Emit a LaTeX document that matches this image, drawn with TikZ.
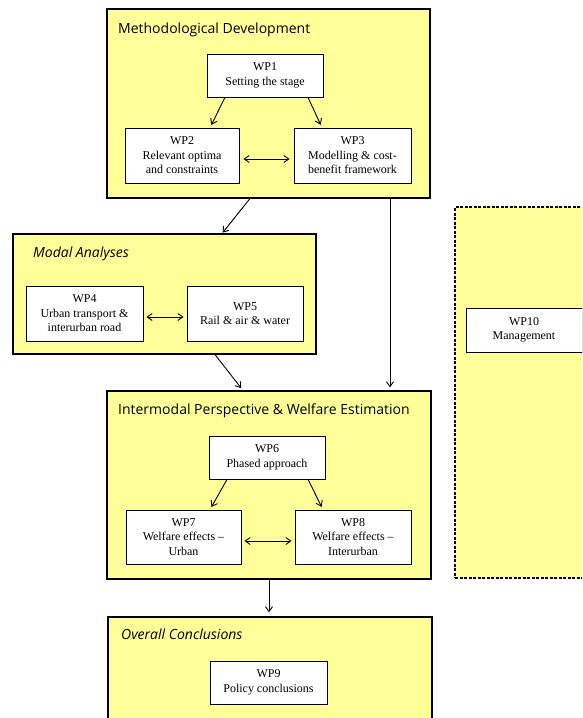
\documentclass[tikz,border=0pt]{standalone}
\usepackage{fontspec}
\setmainfont{Liberation Serif}
\newfontfamily\headfont{Open Sans}
\usepackage{xcolor}
\usetikzlibrary{arrows.meta}
\definecolor{panelyellow}{HTML}{FFFF99}
\colorlet{panel area}{panelyellow}
\colorlet{panel edge}{black}
\tikzset{panel/.style={fill=panel area, draw=panel edge, line width=1.1pt, inner sep=0pt},
    wpbox/.style={fill=white, draw=black, line width=0.9pt, inner sep=0pt, align=center,
        font=\fontsize{12}{14.5}\selectfont},
    heading/.style={anchor=base west, inner sep=0pt, font=\headfont\fontsize{14}{16}\selectfont},
    flow/.style={line width=0.9pt, -{Straight Barb[length=5pt,width=7pt]}},
    twoway/.style={line width=0.9pt, {Straight Barb[length=5pt,width=7pt]}-{Straight Barb[length=5pt,width=7pt]}}}

\begin{document}
\begin{tikzpicture}[x=1pt, y=-1pt]
    \clip (0,0) rectangle (582,718);
    % panels
    \node[panel, minimum width=323pt, minimum height=189pt] (method)  at (268.5,103.5) {};
    \node[panel, minimum width=303pt, minimum height=120pt] (modal)   at (164.5,294)   {};
    \node[panel, minimum width=324pt, minimum height=188pt] (inter)   at (269,485)     {};
    \node[panel, minimum width=324pt, minimum height=143pt] (overall) at (270,688.5)   {};
    \node[panel, dash pattern=on 3pt off 1.5pt, minimum width=165pt, minimum height=371pt] (mgmt) at (537.5,392.5) {};
    \node[heading] (methodtitle)  at (118,33)  {Methodological Development};
    \node[heading] (modaltitle)   at (33,257)  {\itshape Modal Analyses};
    \node[heading] (intertitle)   at (118,414) {Intermodal Perspective \& Welfare Estimation};
    \node[heading] (overalltitle) at (121,639) {\itshape Overall Conclusions};
    % work packages
    \node[wpbox, minimum width=116pt, minimum height=43pt] (wp1)  at (265,75.5)  {WP1\\Setting the stage};
    \node[wpbox, minimum width=114pt, minimum height=55pt] (wp2)  at (182,155.5) {WP2\\Relevant optima\\and constraints};
    \node[wpbox, minimum width=117pt, minimum height=55pt] (wp3)  at (352.5,155.5) {WP3\\Modelling \& cost-\\benefit framework};
    \node[wpbox, minimum width=117pt, minimum height=55pt] (wp4)  at (84.5,313.5) {WP4\\Urban transport \&\\interurban road};
    \node[wpbox, minimum width=116pt, minimum height=55pt] (wp5)  at (245,313.5)  {WP5\\Rail \& air \& water};
    \node[wpbox, minimum width=116pt, minimum height=43pt] (wp6)  at (267,457.5)  {WP6\\Phased approach};
    \node[wpbox, minimum width=115pt, minimum height=54pt] (wp7)  at (183.5,537)  {WP7\\Welfare effects --\\Urban};
    \node[wpbox, minimum width=116pt, minimum height=54pt] (wp8)  at (353,537)    {WP8\\Welfare effects --\\Interurban};
    \node[wpbox, minimum width=117pt, minimum height=43pt] (wp9)  at (268.5,682.5) {WP9\\Policy conclusions};
    \node[wpbox, minimum width=116pt, minimum height=44pt] (wp10) at (524,330)    {WP10\\Management};
    % links
    \draw[flow, shorten >=3pt] ([xshift=-40pt]wp1.south) -- ([xshift=28pt]wp2.north);
    \draw[flow, shorten >=3pt] ([xshift=43pt]wp1.south) -- ([xshift=-30.5pt]wp3.north);
    \draw[twoway, shorten <=4pt, shorten >=4pt] ([yshift=-3.5pt]wp2.east) -- ([yshift=-3.5pt]wp3.west);
    \draw[twoway, shorten <=3pt, shorten >=3pt] ([yshift=-3.5pt]wp4.east) -- ([yshift=-3.5pt]wp5.west);
    \draw[flow, shorten >=3pt] ([xshift=-40pt]wp6.south) -- ([xshift=26.5pt]wp7.north);
    \draw[flow, shorten >=3pt] ([xshift=41pt]wp6.south) -- ([xshift=-30pt]wp8.north);
    \draw[twoway, shorten <=3pt, shorten >=3pt] ([yshift=-4pt]wp7.east) -- ([yshift=-4pt]wp8.west);
    \draw[flow, shorten >=1pt] ([xshift=-18.5pt]method.south) -- ([xshift=57.5pt]modal.north);
    \draw[flow, shorten >=3pt] ([xshift=121.5pt]method.south) -- ([xshift=121pt]inter.north);
    \draw[flow, shorten >=3pt] ([xshift=50.5pt]modal.south) -- ([xshift=-26pt]inter.north);
    \draw[flow, shorten >=4pt] (inter.south) -- (inter.south |- overall.north);
\end{tikzpicture}
\end{document}
